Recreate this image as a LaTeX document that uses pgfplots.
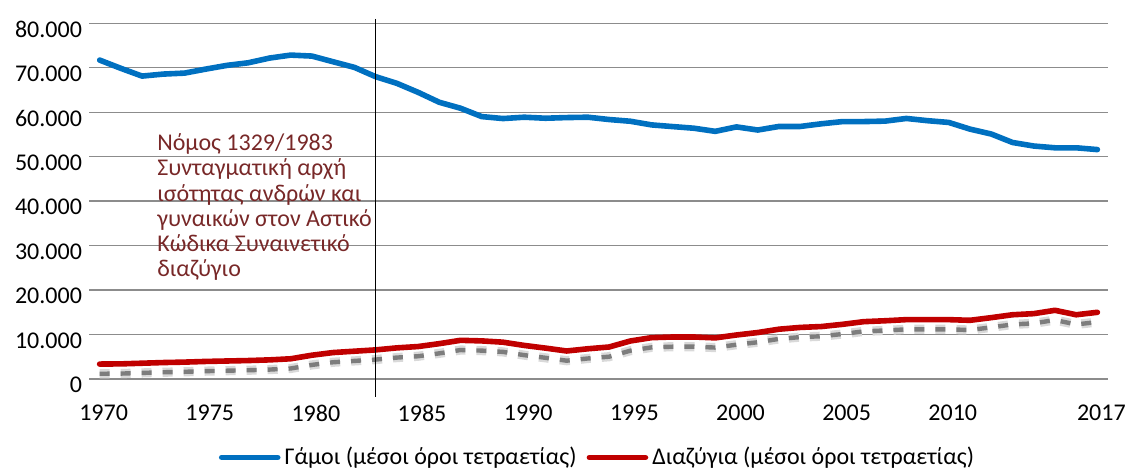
\documentclass[border=0pt]{standalone}
\usepackage{fontspec}
\setmainfont{Carlito}
\usepackage{pgfplots}
\pgfplotsset{compat=1.18}
\usepackage{pgfplotstable}

\definecolor{mblue}{RGB}{0,112,192}
\definecolor{mred}{RGB}{192,0,0}
\definecolor{gridc}{RGB}{140,140,140}
\definecolor{anno}{RGB}{120,40,40}
\definecolor{shadowc}{RGB}{125,125,125}

\pgfplotstableread{
year val
1970 71730
1971 69870
1972 68130
1973 68580
1974 68800
1975 69700
1976 70540
1977 71120
1978 72180
1979 72850
1980 72630
1981 71350
1982 70090
1983 68000
1984 66500
1985 64480
1986 62240
1987 60900
1988 59020
1989 58580
1990 58880
1991 58650
1992 58800
1993 58880
1994 58360
1995 57970
1996 57150
1997 56770
1998 56400
1999 55700
2000 56700
2001 56000
2002 56800
2003 56800
2004 57400
2005 57900
2006 57900
2007 58000
2008 58600
2009 58100
2010 57700
2011 56200
2012 55100
2013 53200
2014 52400
2015 52000
2016 52000
2017 51600
}\marr

\pgfplotstableread{
year val
1970 3360
1971 3400
1972 3550
1973 3700
1974 3800
1975 3950
1976 4050
1977 4150
1978 4300
1979 4550
1980 5350
1981 5950
1982 6250
1983 6550
1984 7000
1985 7300
1986 7950
1987 8700
1988 8570
1989 8280
1990 7550
1991 6950
1992 6300
1993 6800
1994 7200
1995 8550
1996 9300
1997 9450
1998 9450
1999 9250
2000 9900
2001 10450
2002 11200
2003 11600
2004 11800
2005 12300
2006 12900
2007 13100
2008 13350
2009 13350
2010 13350
2011 13200
2012 13800
2013 14450
2014 14700
2015 15450
2016 14450
2017 15000
}\divo

\begin{document}
\begin{tikzpicture}[font=\fontsize{12}{13.5}\selectfont]
\path[use as bounding box] (-44.5pt,-46pt) rectangle (519pt,189.5pt);
\begin{axis}[
  at={(0,0)}, anchor=south west,
  scale only axis, width=509.5pt, height=177.85pt,
  xmin=1969.5, xmax=2017.5, ymin=0, ymax=80000,
  axis line style={draw=none},
  major tick length=0pt,
  xtick={1970,1975,1980,1985,1990,1995,2000,2005,2010,2017},
  xticklabels={1970,1975,1980,1985,1990,1995,2000,2005,2010,2017},
  ytick={0,10000,20000,30000,40000,50000,60000,70000,80000},
  yticklabels={0,10.000,20.000,30.000,40.000,50.000,60.000,70.000,80.000},
  ymajorgrids, grid style={gridc, line width=0.7pt},
  xticklabel style={yshift=-9.5pt, xshift=2pt},
  yticklabel style={yshift=-3pt},
  scaled y ticks=false,
  clip=false,
  legend style={at={(axis description cs:0.5,0)}, anchor=center, yshift=-39.25pt,
    draw=none, fill=none, font=\fontsize{12}{13.5}\selectfont,
    /tikz/every even column/.append style={column sep=3pt}},
  legend columns=2,
  legend cell align=left,
  legend image code/.code={\draw[#1, line cap=round] (0pt,0pt) -- (28pt,0pt);},
]
\addplot[forget plot, gray!30, line width=4.6pt, dash pattern=on 5pt off 5.5pt, yshift=-4.85pt] table[x=year,y=val]{\divo};
\addplot[forget plot, shadowc, line width=2.2pt, dash pattern=on 5pt off 5.5pt, yshift=-4.85pt] table[x=year,y=val]{\divo};
\addplot[mblue, line width=2.8pt, line join=round, line cap=round] table[x=year,y=val]{\marr};
\addlegendentry{Γάμοι (μέσοι όροι τετραετίας)}
\addplot[mred, line width=2.8pt, line join=round, line cap=round] table[x=year,y=val]{\divo};
\addlegendentry{Διαζύγια (μέσοι όροι τετραετίας)}

\draw[black, line width=0.8pt] (axis cs:1983,81000) -- (axis cs:1983,-4050);

\node[anchor=base west, inner sep=0pt, text=anno] at (axis cs:1972.7,51350) {Νόμος 1329/1983};
\node[anchor=base west, inner sep=0pt, text=anno, yshift=-12.6pt] at (axis cs:1972.7,51350) {Συνταγματική αρχή};
\node[anchor=base west, inner sep=0pt, text=anno, yshift=-25.2pt] at (axis cs:1972.7,51350) {ισότητας ανδρών και};
\node[anchor=base west, inner sep=0pt, text=anno, yshift=-37.8pt] at (axis cs:1972.7,51350) {γυναικών στον Αστικό};
\node[anchor=base west, inner sep=0pt, text=anno, yshift=-50.4pt] at (axis cs:1972.7,51350) {Κώδικα Συναινετικό};
\node[anchor=base west, inner sep=0pt, text=anno, yshift=-63pt] at (axis cs:1972.7,51350) {διαζύγιο};
\end{axis}
\end{tikzpicture}
\end{document}
